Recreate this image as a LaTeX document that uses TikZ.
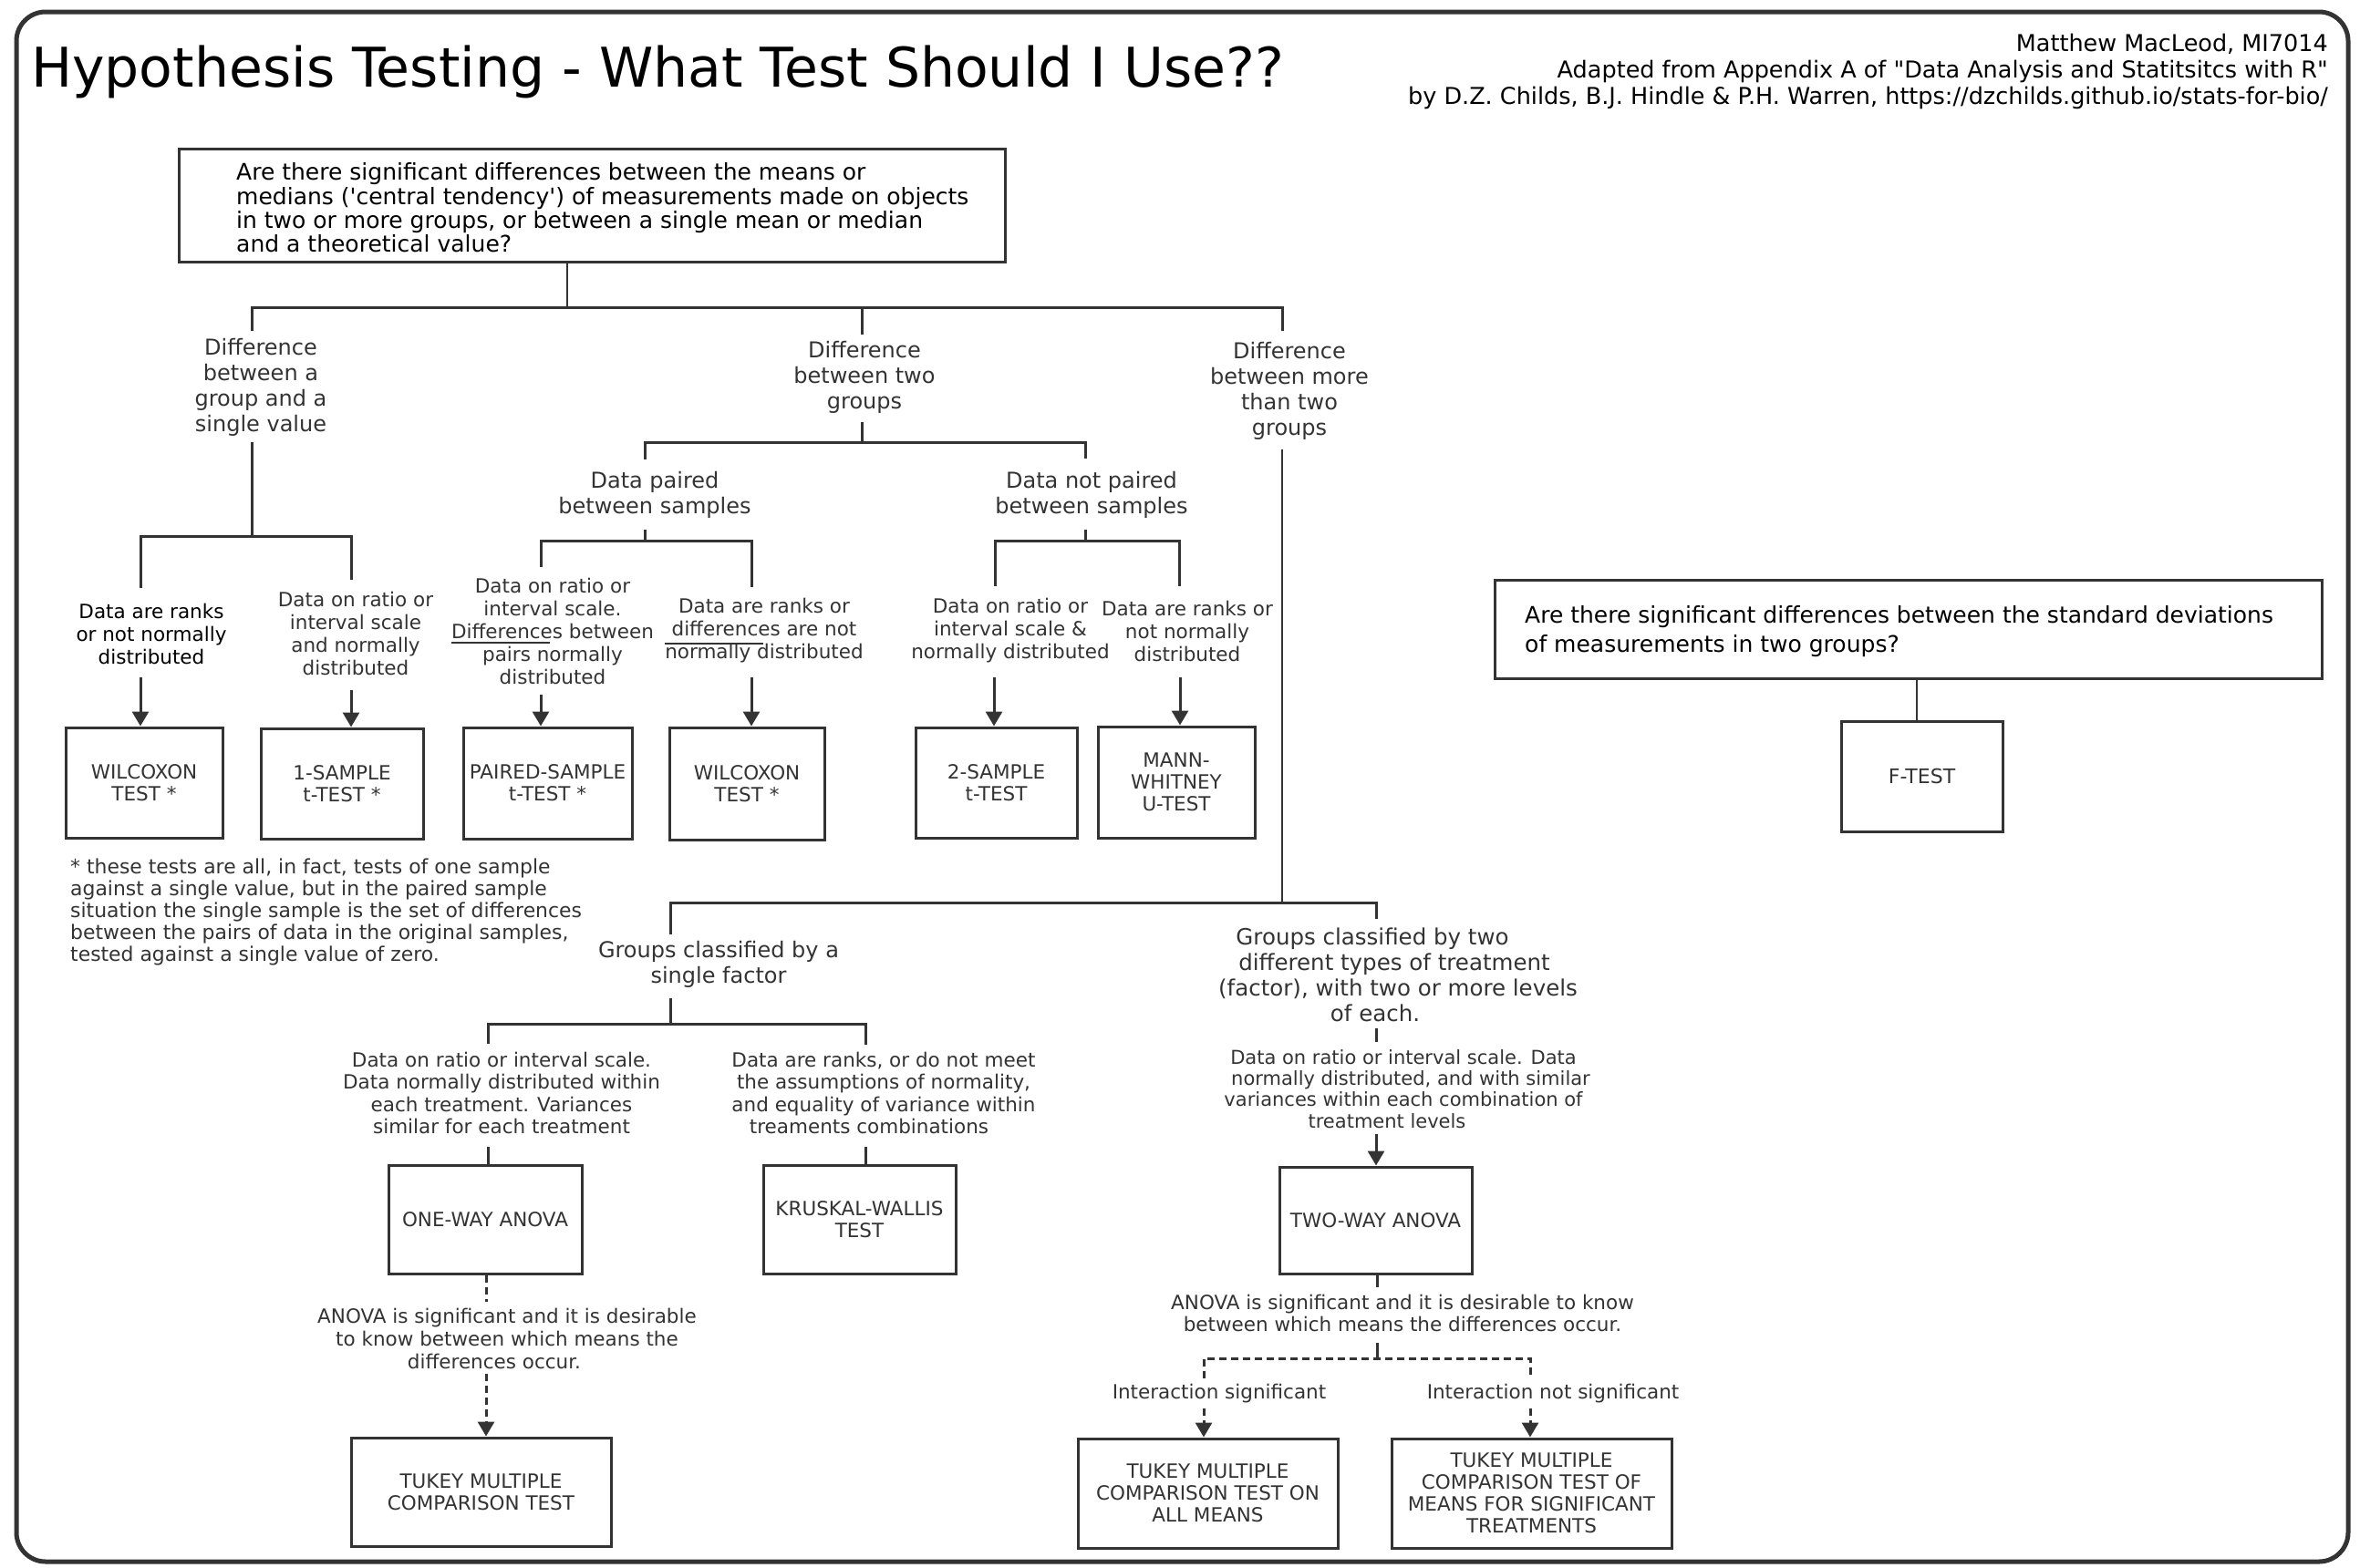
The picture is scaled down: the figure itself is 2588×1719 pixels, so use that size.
\documentclass[tikz,border=0pt]{standalone}
\usepackage{fontspec}
\setmainfont{DejaVu Sans}[Ligatures=TeXOff]
\usetikzlibrary{arrows.meta}
\definecolor{dk}{HTML}{333333}
\newcommand\bxfont{\fontsize{21.5}{24}\selectfont}
\newcommand\lbfont{\fontsize{24}{28}\selectfont}
\newcommand\smfont{\fontsize{21.5}{25}\selectfont}
\newcommand\qfont{\fontsize{25}{26.4}\selectfont}
\newcommand\pad[1]{\rule{#1}{0pt}}
\tikzset{
  ln/.style={draw=dk, line width=3pt},
  thinln/.style={draw=dk, line width=2pt},
  arr/.style={ln, -{Triangle[width=18pt,length=16pt]}},
  dsh/.style={ln, dash pattern=on 8pt off 5pt},
  darr/.style={dsh, -{Triangle[width=18pt,length=16pt]}},
  box/.style={draw=dk, line width=3pt, fill=white, align=center, text=dk, font=\bxfont, inner sep=0pt},
  lbl/.style={align=center, text=dk, font=\lbfont, inner sep=0pt},
  sml/.style={align=center, text=dk, font=\smfont, inner sep=0pt},
}
\begin{document}
\begin{tikzpicture}[x=1pt,y=-1pt]
\useasboundingbox (0,0) rectangle (2588,1719);
\draw[draw=dk, line width=5pt, rounded corners=32pt] (18,13) rectangle (2575,1713);

% title and credits
\node[anchor=base west, font=\fontsize{60}{66}\selectfont, inner sep=0pt] (title) at (34,95) {Hypothesis Testing - What Test Should I Use??};
\node[anchor=east, align=right, font=\fontsize{25.5}{29}\selectfont, inner sep=0pt] (cred) at (2553,78)
  {Matthew MacLeod, MI7014\\Adapted from Appendix A of "Data Analysis and Statitsitcs with R"\\by D.Z. Childs, B.J. Hindle \& P.H. Warren, https://dzchilds.github.io/stats-for-bio/};

% main question
\node[draw=dk, line width=3pt, minimum width=906pt, minimum height=124pt, inner sep=0pt] (q1) at (649,225) {};
\node[anchor=west, align=left, font=\qfont, inner sep=0pt] (q1t) at (259,228)
  {Are there significant differences between the means or\\medians ('central tendency') of measurements made on objects\\in two or more groups, or between a single mean or median\\and a theoretical value?};

% level 1 labels
\node[lbl] (L1) at (286,425) {Difference\\between a\\group and a\\single value};
\node[lbl] (M1) at (948,414) {Difference\\between two\\groups};
\node[lbl] (R1) at (1414,429) {Difference\\between more\\than two\\groups};

\coordinate (j0) at (622,337);
\draw[thinln] (q1.south -| j0) -- (j0);
\draw[ln] (276,363) -- (276,337) -- (1406,337) -- (1406,363);
\draw[ln] (945,337) -- (945,367);

% left branch
\coordinate (j1) at (276,588);
\draw[ln] (276,485) -- (j1);
\draw[ln] (154,645) -- (154,588) -- (385,588) -- (385,636);
\node[align=center, font=\smfont, inner sep=0pt] (L2a) at (166,695) {Data are ranks\\or not normally\\distributed};
\node[sml] (L2b) at (390,695) {Data on ratio or\\interval scale\\and normally\\distributed};

\node[box, minimum width=172pt, minimum height=121pt] (B1) at (158,858.5) {WILCOXON\\TEST *};
\node[box, minimum width=178pt, minimum height=121pt] (B2) at (375,859.5) {1-SAMPLE\\t-TEST *};
\node[box, minimum width=185pt, minimum height=122pt] (B3) at (600.5,859) {PAIRED-SAMPLE\\t-TEST *};
\node[box, minimum width=170pt, minimum height=123pt] (B4) at (819,859.5) {WILCOXON\\TEST *};
\node[box, minimum width=177pt, minimum height=121pt] (B5) at (1092.5,858.5) {2-SAMPLE\\t-TEST};
\node[box, minimum width=172pt, minimum height=122pt] (B6) at (1290,858) {MANN-\\WHITNEY\\U-TEST};

\coordinate (a1) at (154,743);
\coordinate (a2) at (385,757);
\coordinate (a3) at (593,762);
\coordinate (a4) at (824,743);
\coordinate (a5) at (1090,743);
\coordinate (a6) at (1294,743);
\draw[arr] (a1) -- (a1 |- B1.north);
\draw[arr] (a2) -- (a2 |- B2.north);
\draw[arr] (a3) -- (a3 |- B3.north);
\draw[arr] (a4) -- (a4 |- B4.north);
\draw[arr] (a5) -- (a5 |- B5.north);
\draw[arr] (a6) -- (a6 |- B6.north);

% middle branch
\draw[ln] (945,463) -- (945,485);
\draw[ln] (707,504) -- (707,485) -- (1190,485) -- (1190,503);
\node[lbl] (M2a) at (718,543) {Data paired\\between samples};
\node[lbl] (M2b) at (1197,543) {Data not paired\\between samples};
\draw[ln] (707,581) -- (707,593);
\draw[ln] (593,622) -- (593,593) -- (824,593) -- (824,644);
\draw[ln] (1190,581) -- (1190,593);
\draw[ln] (1091,643) -- (1091,593) -- (1293,593) -- (1293,643);
\node[sml] (M3a) at (606,692) {Data on ratio or\\interval scale.\\Differences between\\pairs normally\\distributed};
\node[sml] (M3b) at (838,692) {Data are ranks or\\differences are not\\normally distributed};
\node[sml] (M3c) at (1108,692) {Data on ratio or\\interval scale \&\\normally distributed};
\node[sml] (M3d) at (1302,692) {Data are ranks or\\not normally\\distributed};
\draw[thinln] (495,705) -- (603,705);
\draw[thinln] (729,706) -- (837,706);

% footnote
\node[anchor=west, align=left, text=dk, font=\fontsize{21.9}{24}\selectfont, inner sep=0pt] (fn) at (77,1000)
  {* these tests are all, in fact, tests of one sample\\against a single value, but in the paired sample\\situation the single sample is the set of differences\\between the pairs of data in the original samples,\\tested against a single value of zero.};

% right branch
\draw[thinln] (1406,493) -- (1406,990);
\draw[ln] (735,1025) -- (735,990) -- (1509,990) -- (1509,1008);
\node[lbl] (G1) at (788,1058) {Groups classified by a\\single factor};
\draw[ln] (735,1095) -- (735,1123);
\draw[ln] (535,1145) -- (535,1123) -- (949,1123) -- (949,1146);
\node[sml, font=\fontsize{21.5}{24.5}\selectfont] (G1a) at (550,1199) {Data on ratio or interval scale.\\Data normally distributed within\\each treatment. Variances\\similar for each treatment};
\node[sml, font=\fontsize{21.5}{24.5}\selectfont] (G1b) at (969,1199) {Data are ranks, or do not meet\\the assumptions of normality,\\and equality of variance within\\treaments combinations\pad{32pt}};

\node[box, minimum width=212pt, minimum height=119pt] (OW) at (532,1337.5) {ONE-WAY ANOVA};
\node[box, minimum width=211pt, minimum height=119pt] (KW) at (942.5,1337.5) {KRUSKAL-WALLIS\\TEST};
\coordinate (c1) at (535,1258);
\coordinate (c2) at (949,1258);
\draw[ln] (c1) -- (c1 |- OW.north);
\draw[ln] (c2) -- (c2 |- KW.north);

\coordinate (d1) at (533,1428);
\draw[dsh] (OW.south -| d1) -- (d1);
\node[sml] (A1) at (556,1468) {ANOVA is significant and it is desirable\\to know between which means the\\differences occur.\pad{28pt}};
\node[box, minimum width=285pt, minimum height=119pt] (TK1) at (527.5,1636.5) {TUKEY MULTIPLE\\COMPARISON TEST};
\coordinate (d2) at (533,1507);
\draw[darr] (d2) -- (d2 |- TK1.north);

% two-way
\node[lbl, font=\fontsize{24.5}{28}\selectfont] (G2) at (1533,1069) {Groups classified by two\pad{56pt}\\different types of treatment\pad{8pt}\\(factor), with two or more levels\\of each.\pad{50pt}};
\draw[ln] (1509,1128) -- (1509,1143);
\node[sml, font=\fontsize{21}{23.3}\selectfont] (G2a) at (1547,1194.5) {Data on ratio or interval scale. Data\pad{16pt}\\normally distributed, and with similar\\variances within each combination of\pad{16pt}\\treatment levels\pad{52pt}};
\node[box, minimum width=211pt, minimum height=117pt] (TW) at (1508.5,1338.5) {TWO-WAY ANOVA};
\coordinate (e1) at (1509,1244);
\draw[arr] (e1) -- (e1 |- TW.north);
\coordinate (e2) at (1510,1412);
\draw[ln] (TW.south -| e2) -- (e2);
\node[sml, font=\fontsize{21.5}{24}\selectfont] (A2) at (1538,1440) {ANOVA is significant and it is desirable to know\\between which means the differences occur.};
\draw[ln] (1510,1473) -- (1510,1490);
\draw[dsh] (1320,1512) -- (1320,1490) -- (1678,1490) -- (1678,1512);
\node[sml] (I1) at (1337,1529) {Interaction significant};
\node[sml] (I2) at (1703,1529) {Interaction not significant};
\node[box, minimum width=285pt, minimum height=120pt] (TK2) at (1324.5,1638) {TUKEY MULTIPLE\\COMPARISON TEST ON\\ALL MEANS};
\node[box, minimum width=307pt, minimum height=120pt] (TK3) at (1679.5,1638) {TUKEY MULTIPLE\\COMPARISON TEST OF\\MEANS FOR SIGNIFICANT\\TREATMENTS};
\coordinate (f1) at (1320,1545);
\coordinate (f2) at (1678,1545);
\draw[darr] (f1) -- (f1 |- TK2.north);
\draw[darr] (f2) -- (f2 |- TK3.north);

% F-test
\node[draw=dk, line width=3pt, minimum width=907pt, minimum height=108pt, inner sep=0pt] (q2) at (2092.5,690) {};
\node[anchor=west, align=left, font=\fontsize{25}{32}\selectfont, inner sep=0pt] (q2t) at (1672,693)
  {Are there significant differences between the standard deviations\\of measurements in two groups?};
\node[box, minimum width=177pt, minimum height=121pt, font=\fontsize{22}{24}\selectfont] (FT) at (2107.5,851.5) {F-TEST};
\coordinate (g1) at (2102,744);
\draw[thinln] (g1) -- (g1 |- FT.north);
\end{tikzpicture}
\end{document}
